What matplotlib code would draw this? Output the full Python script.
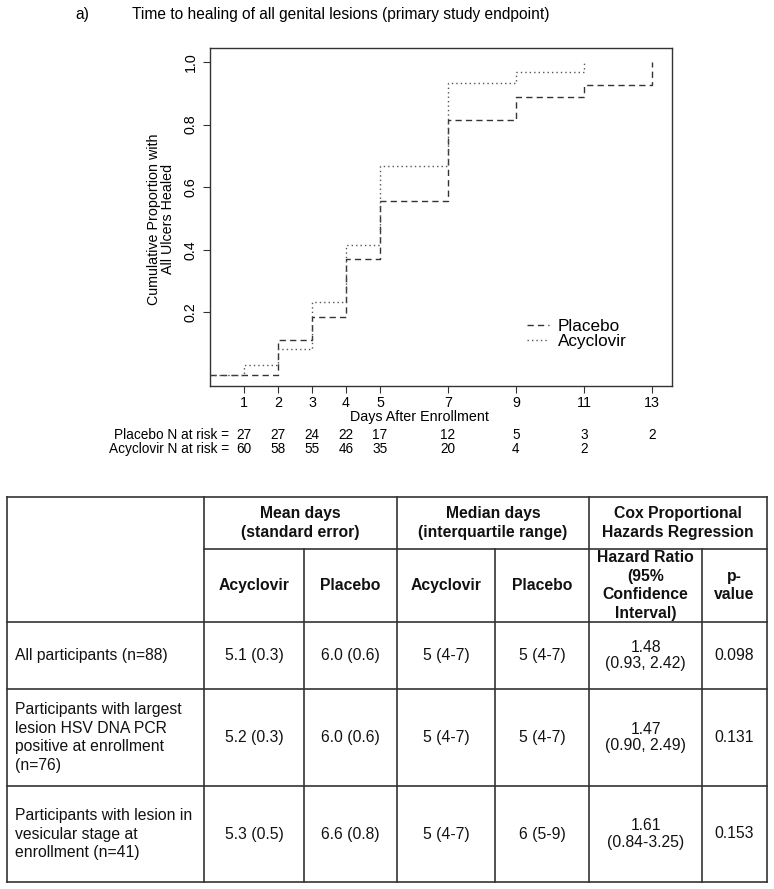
import matplotlib
matplotlib.use('Agg')
import matplotlib.pyplot as plt
from matplotlib.transforms import blended_transform_factory

plt.rcParams['font.family'] = ['Liberation Sans', 'DejaVu Sans']

# Cumulative proportion healed
placebo_days = [0, 2, 3, 4, 5, 7, 9, 11, 13]
placebo_healed = [0.0, 0.111, 0.185, 0.370, 0.556, 0.815, 0.889, 0.926, 1.0]
acyclovir_days = [0, 1, 2, 3, 4, 5, 7, 9, 11]
acyclovir_healed = [0.0, 0.033, 0.083, 0.233, 0.417, 0.667, 0.933, 0.967, 1.0]

x_ticks = [1, 2, 3, 4, 5, 7, 9, 11, 13]
y_ticks = [0.2, 0.4, 0.6, 0.8, 1.0]

# Numbers at risk
risk_days = [1, 2, 3, 4, 5, 7, 9, 11, 13]
placebo_at_risk = [27, 27, 24, 22, 17, 12, 5, 3, 2]
acyclovir_at_risk = [60, 58, 55, 46, 35, 20, 4, 2]

# Summary table
group_headers = ['Mean days\n(standard error)', 'Median days\n(interquartile range)',
                 'Cox Proportional\nHazards Regression']
sub_headers = ['Acyclovir', 'Placebo', 'Acyclovir', 'Placebo',
               'Hazard Ratio\n(95%\nConfidence\nInterval)', 'p-\nvalue']
row_labels = ['All participants (n=88)',
              'Participants with largest\nlesion HSV DNA PCR\npositive at enrollment\n(n=76)',
              'Participants with lesion in\nvesicular stage at\nenrollment (n=41)']
mean_acv = ['5.1 (0.3)', '5.2 (0.3)', '5.3 (0.5)']
mean_pbo = ['6.0 (0.6)', '6.0 (0.6)', '6.6 (0.8)']
median_acv = ['5 (4-7)', '5 (4-7)', '5 (4-7)']
median_pbo = ['5 (4-7)', '5 (4-7)', '6 (5-9)']
hazard_ratio = ['1.48\n(0.93, 2.42)', '1.47\n(0.90, 2.49)', '1.61\n(0.84-3.25)']
p_value = ['0.098', '0.131', '0.153']

W, H = 774, 889
fig = plt.figure(figsize=(W / 100, H / 100), dpi=100)

# Overlay in pixel coordinates for the free text and the table
ov = fig.add_axes([0, 0, 1, 1])
ov.set_xlim(0, W)
ov.set_ylim(H, 0)
ov.axis('off')

# Survival-style plot
ax = fig.add_axes([210 / W, 1 - 386 / H, 462 / W, 338 / H])
ax.step(placebo_days, placebo_healed, where='post', color='#333333', lw=1.0,
        dashes=(4.5, 3), label='Placebo')
ax.step(acyclovir_days, acyclovir_healed, where='post', color='#555555', lw=1.0,
        dashes=(1, 2.2), label='Acyclovir')
ax.set_xlim(0, 13.59)
ax.set_ylim(-0.035, 1.045)
ax.set_xticks(x_ticks)
ax.set_yticks(y_ticks)
ax.set_yticklabels([f'{v:.1f}' for v in y_ticks], rotation=90, va='center')
ax.tick_params(direction='out', length=5, width=0.8, color='#333333', labelsize=10.3)
ax.tick_params(axis='x', pad=2)
ax.tick_params(axis='y', pad=4)
for s in ax.spines.values():
    s.set_color('#333333')
    s.set_linewidth(1.0)

leg = ax.legend(loc='upper left', bbox_to_anchor=(527, 319), bbox_transform=ov.transData,
                frameon=False, fontsize=12.3, handlelength=1.3, handletextpad=0.5,
                labelspacing=0.0, borderpad=0, borderaxespad=0)

ov.text(161, 219, 'Cumulative Proportion with\nAll Ulcers Healed', rotation=90,
        ha='center', va='center', fontsize=10.3, linespacing=1.0)
ov.text(419, 417, 'Days After Enrollment', ha='center', va='center', fontsize=10.3)

# Title
ov.text(75, 14, 'a)', ha='left', va='center', fontsize=11.2)
ov.text(132, 14, 'Time to healing of all genital lesions (primary study endpoint)',
        ha='left', va='center', fontsize=11.2)

# At-risk rows aligned to the day axis
tr = blended_transform_factory(ax.transData, ov.transData)
ov.text(233, 435, 'Placebo N at risk = ', ha='right', va='center', fontsize=9.8)
ov.text(233, 449, 'Acyclovir N at risk = ', ha='right', va='center', fontsize=9.8)
for d, n in zip(risk_days, placebo_at_risk):
    ov.text(d, 435, str(n), transform=tr, ha='center', va='center', fontsize=9.8)
for d, n in zip(risk_days, acyclovir_at_risk):
    ov.text(d, 449, str(n), transform=tr, ha='center', va='center', fontsize=9.8)

# Table grid
col_x = [7, 204, 304, 397, 495, 589, 702, 767]
row_y = [497, 549, 622, 689, 786, 882]
lc = '#333333'
lw = 1.2
for y in [row_y[0], row_y[2], row_y[3], row_y[4], row_y[5]]:
    ov.plot([col_x[0], col_x[-1]], [y, y], color=lc, lw=lw, solid_capstyle='projecting')
ov.plot([col_x[1], col_x[-1]], [row_y[1], row_y[1]], color=lc, lw=lw)
for i, x in enumerate(col_x):
    top = row_y[1] if i in (2, 4, 6) else row_y[0]
    ov.plot([x, x], [top, row_y[-1]], color=lc, lw=lw, solid_capstyle='projecting')

fs = 11.3
tc = '#111111'
group_spans = [(1, 3), (3, 5), (5, 7)]
for (a, b), txt in zip(group_spans, group_headers):
    ov.text((col_x[a] + col_x[b]) / 2, (row_y[0] + row_y[1]) / 2, txt, ha='center',
            va='center', fontsize=fs, fontweight='bold', color=tc, linespacing=1.3)
for j, txt in enumerate(sub_headers):
    ov.text((col_x[j + 1] + col_x[j + 2]) / 2, (row_y[1] + row_y[2]) / 2, txt,
            ha='center', va='center', fontsize=fs, fontweight='bold', color=tc,
            linespacing=1.28)

columns = [mean_acv, mean_pbo, median_acv, median_pbo, hazard_ratio, p_value]
for r in range(len(row_labels)):
    yc = (row_y[r + 2] + row_y[r + 3]) / 2
    ov.text(15, yc, row_labels[r], ha='left', va='center', fontsize=fs, color=tc,
            linespacing=1.3)
    for j, col in enumerate(columns):
        ov.text((col_x[j + 1] + col_x[j + 2]) / 2, yc, col[r], ha='center', va='center',
                fontsize=fs, color=tc, linespacing=1.12)

fig.savefig('out.png', dpi=100)
